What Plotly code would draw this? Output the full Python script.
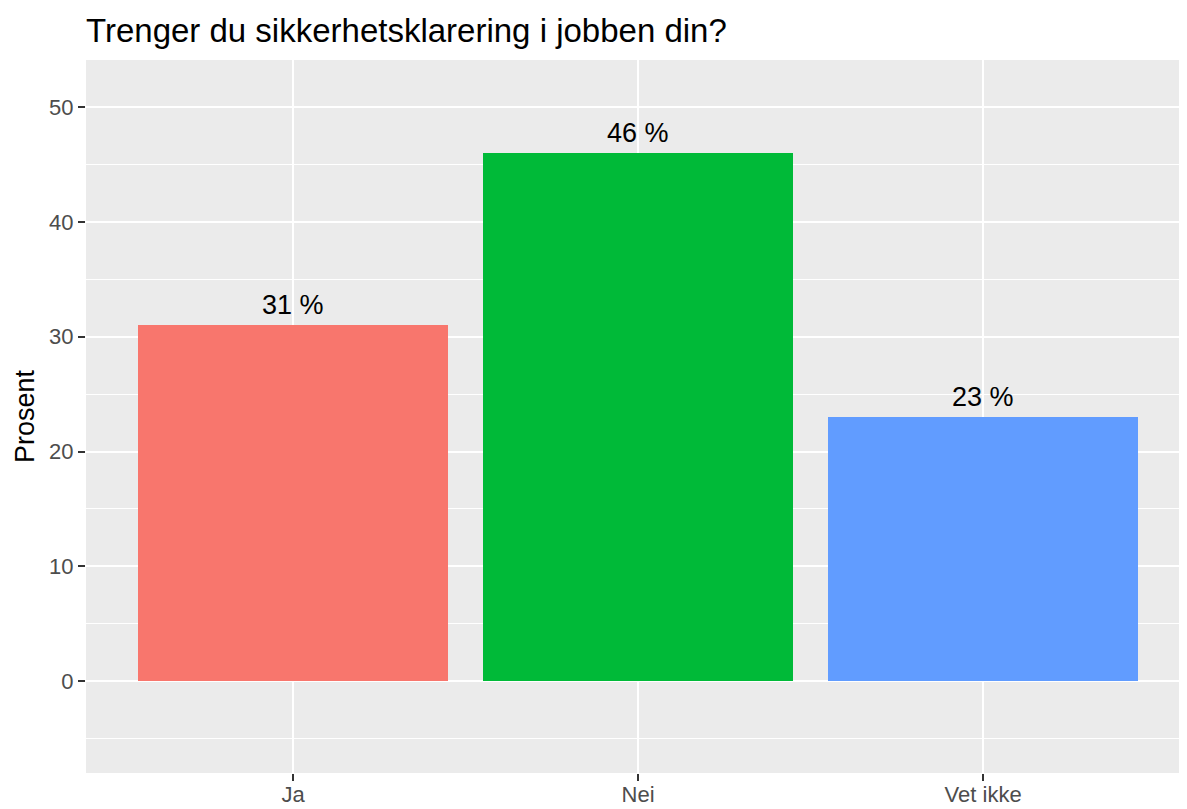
import plotly.graph_objects as go

categories = ["Ja", "Nei", "Vet ikke"]
values = [31, 46, 23]
labels = ["31 %", "46 %", "23 %"]
colors = ["#F8766D", "#00BA38", "#619CFF"]
y_ticks = [0, 10, 20, 30, 40, 50]
title_text = "Trenger du sikkerhetsklarering i jobben din?"
y_title = "Prosent"

FONT = "Liberation Sans, Arial, sans-serif"
W, H = 1187, 809
OFF = 8  # page body margin offset

fig = go.Figure()
fig.add_trace(go.Bar(
    x=list(range(len(categories))), y=values, width=0.9,
    marker=dict(color=colors, line=dict(width=0)),
    showlegend=False, hoverinfo="skip",
))
for i, (v, lab) in enumerate(zip(values, labels)):
    fig.add_annotation(x=i, y=v, text=lab, showarrow=False, yanchor="bottom",
                       yshift=3, font=dict(family=FONT, size=27, color="black"))

fig.update_layout(
    width=W, height=H,
    margin=dict(l=86 - OFF, r=OFF, t=60 - OFF, b=36 + OFF),
    paper_bgcolor="white", plot_bgcolor="#EBEBEB",
    font=dict(family=FONT),
    title=dict(text=title_text, x=(86 - OFF) / W, xanchor="left", xref="container",
               y=1 - (30 - OFF) / H, yanchor="middle", yref="container",
               font=dict(family=FONT, size=33, color="black")),
    bargap=0,
)
fig.update_xaxes(
    range=[-0.6, 2.591], tickmode="array", tickvals=list(range(len(categories))),
    ticktext=categories, showgrid=True, gridcolor="white", gridwidth=2.2,
    zeroline=False, ticks="outside", ticklen=7, tickwidth=2, tickcolor="#333333",
    tickfont=dict(family=FONT, size=22, color="#4D4D4D"), showline=False,
    ticklabelstandoff=-5,
    automargin=False,
)
fig.update_yaxes(
    range=[-8.0, 54.1], tickmode="array", tickvals=y_ticks,
    showgrid=True, gridcolor="white", gridwidth=2.2,
    minor=dict(dtick=10, tick0=5, showgrid=True, gridcolor="white", gridwidth=1.1, ticks=""),
    zeroline=False, ticks="outside", ticklen=7, tickwidth=2, tickcolor="#333333",
    tickfont=dict(family=FONT, size=22, color="#4D4D4D"), showline=False,
    title=dict(text=y_title, font=dict(family=FONT, size=27, color="black"), standoff=6),
    automargin=False,
)

fig.write_html("out.html")
